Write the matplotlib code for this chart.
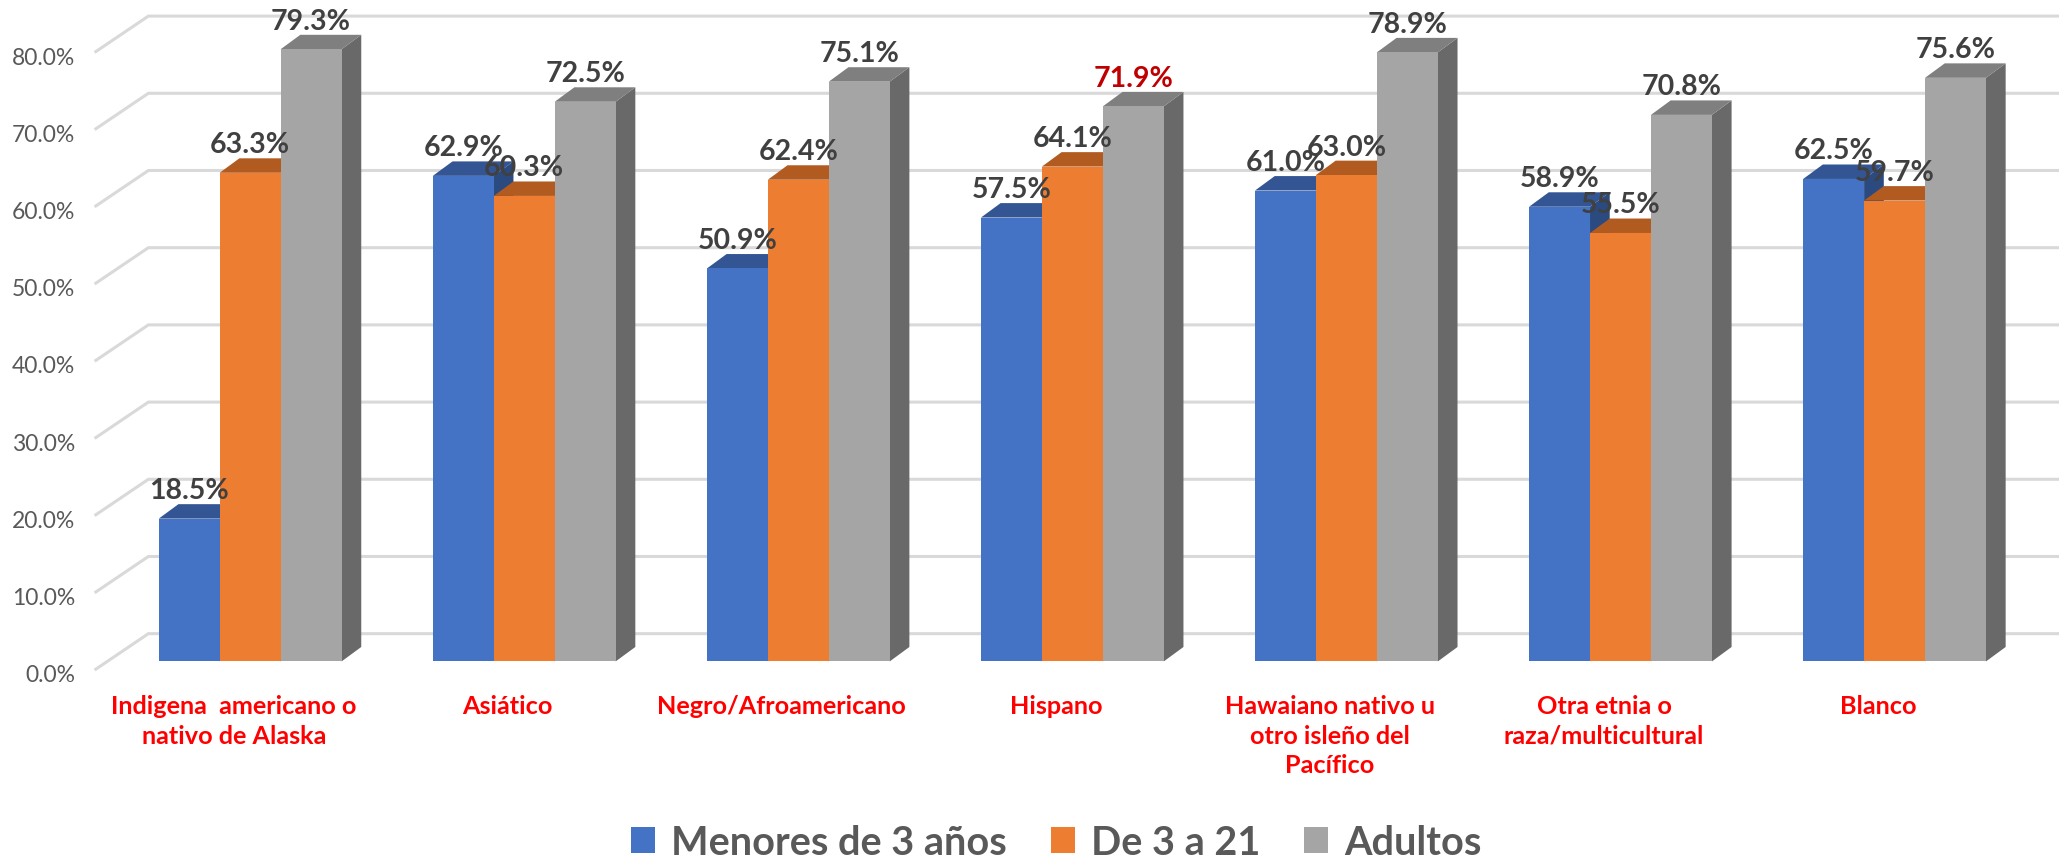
import matplotlib
matplotlib.use('Agg')
import matplotlib.pyplot as plt
from matplotlib.patches import Polygon
from matplotlib.transforms import ScaledTranslation

plt.rcParams['font.family'] = ['Lato', 'DejaVu Sans']

categorias = ['Indigena  americano o\nnativo de Alaska', 'Asiático', 'Negro/Afroamericano', 'Hispano',
              'Hawaiano nativo u\notro isleño del\nPacífico', 'Otra etnia o\nraza/multicultural', 'Blanco']
menores = [18.5, 62.9, 50.9, 57.5, 61.0, 58.9, 62.5]
de3a21 = [63.3, 60.3, 62.4, 64.1, 63.0, 55.5, 59.7]
adultos = [79.3, 72.5, 75.1, 71.9, 78.9, 70.8, 75.6]
ticks_y = [0, 10, 20, 30, 40, 50, 60, 70, 80]

series = [('Menores de 3 años', menores, '#4472C4', '#335593', '#2A4A80'),
          ('De 3 a 21', de3a21, '#ED7D31', '#B25B20', '#A04F1A'),
          ('Adultos', adultos, '#A5A5A5', '#7F7F7F', '#696969')]

# geometria del falso 3D (unidades de los ejes)
ancho = 46.4 / 208.7
base = 1.0
bar_dx, bar_dy = 15 / 208.7, 11 / 5.875
piso_dx, piso_dy = 40 / 208.7, 27 / 5.875

fig = plt.figure(figsize=(20.59, 8.62), dpi=100)
ax = fig.add_axes([73 / 1568, 146 / 656, 1495 / 1568, 510 / 656])
ax.set_xlim(-0.563, 6.600)
ax.set_ylim(0, 86.81)
for s in ax.spines.values():
    s.set_visible(False)

# rejilla: diagonal del piso y linea de fondo
xi = ax.get_xlim()[0]
xf = ax.get_xlim()[1]
for v in ticks_y:
    ax.plot([xi, xi + piso_dx, xf], [v, v + piso_dy, v + piso_dy], color='#D9D9D9', lw=2.2, zorder=1,
            solid_joinstyle='miter', clip_on=False)

for j, (nombre, valores, frente, tapa, lado) in enumerate(series):
    for i, v in enumerate(valores):
        x0 = i + (j - 1.5) * ancho
        x1 = x0 + ancho
        top = base + v
        z = 2 + j * 3
        ax.add_patch(Polygon([(x1, base), (x1 + bar_dx, base + bar_dy), (x1 + bar_dx, top + bar_dy), (x1, top)],
                             facecolor=lado, edgecolor='none', zorder=z))
        ax.add_patch(Polygon([(x0, top), (x0 + bar_dx, top + bar_dy), (x1 + bar_dx, top + bar_dy), (x1, top)],
                             facecolor=tapa, edgecolor='none', zorder=z))
    ax.bar([i + (j - 1) * ancho for i in range(len(valores))], valores, ancho, bottom=base, color=frente,
           zorder=2 + j * 3 + 1, label=nombre)

# etiquetas de datos
for j, (nombre, valores, frente, tapa, lado) in enumerate(series):
    for i, v in enumerate(valores):
        color = '#C00000' if (j == 2 and i == 3) else '#404040'
        ax.text(i + (j - 1) * ancho, base + v + 3.7, '%.1f%%' % v, ha='center', va='center',
                fontsize=20.5, fontweight='bold', color=color, zorder=20, clip_on=False)

ax.set_yticks(ticks_y)
ax.set_yticklabels(['%.1f%%' % v for v in ticks_y], fontsize=16.5, color='#595959')
ax.set_xticks([i - 0.06 for i in range(len(categorias))])
ax.set_xticklabels(categorias, fontsize=18.2, fontweight='bold', color='#FF0000', linespacing=1.35)
ax.tick_params(axis='y', length=0, pad=15)
ax.tick_params(axis='x', length=0, pad=18)

# bajar un poco los numeros del eje y
bajar = ScaledTranslation(0, -2.6 / 72, fig.dpi_scale_trans)
for t in ax.get_yticklabels():
    t.set_transform(t.get_transform() + bajar)

h, l = ax.get_legend_handles_labels()
leg = fig.legend(h, l, loc='lower center', bbox_to_anchor=(0.513, -0.0416), ncol=3, frameon=False,
                 handlelength=0.62, handleheight=0.62, handletextpad=0.4, columnspacing=1.1,
                 prop={'size': 28.5, 'weight': 'bold'})
for t in leg.get_texts():
    t.set_color('#595959')

fig.savefig('out.png', dpi=100)
